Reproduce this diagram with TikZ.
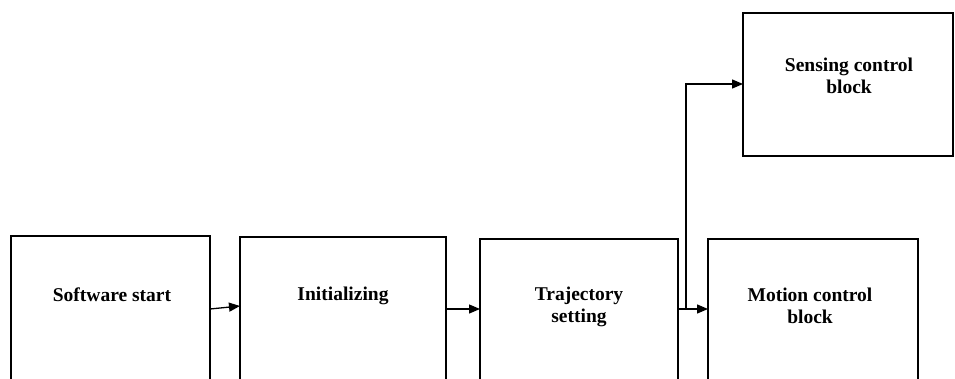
\documentclass[tikz,border=0pt]{standalone}
\usepackage{fontspec}
\setmainfont{Liberation Serif}
\usetikzlibrary{arrows.meta}
\begin{document}
\begin{tikzpicture}[x=1pt,y=-1pt,
  blockbox/.style={draw=black,line width=1.3pt,fill=white},
  blocktext/.style={font=\bfseries\fontsize{19.5}{22}\selectfont,align=center,inner sep=0pt},
  flow/.style={line width=1.3pt,-{Triangle[length=11pt,width=9pt]}}]
  \clip (0,0) rectangle (955,378);
  \fill[white] (0,0) rectangle (955,378);
  % blocks (the lower part runs past the bottom edge)
  \path[blockbox] (11,236) rectangle (210,430);
  \path[blockbox] (240,237) rectangle (446,430);
  \path[blockbox] (480,239) rectangle (678,430);
  \path[blockbox] (708,239) rectangle (918,430);
  \path[blockbox] (743,13) rectangle (953,156);
  % named anchor points on the block edges
  \coordinate (softE)  at (210,309);
  \coordinate (initW)  at (240,306);
  \coordinate (initE)  at (446,309);
  \coordinate (trajW)  at (480,309);
  \coordinate (trajE)  at (678,309);
  \coordinate (motW)   at (708,309);
  \coordinate (split)  at (686,309);
  \coordinate (bend)   at (686,84);
  \coordinate (senseW) at (743,84);
  % labels
  \node[blocktext] (soft)   at (112,295) {Software start};
  \node[blocktext] (init)   at (343,296) {Initializing};
  \node[blocktext] (traj)   at (579,307) {Trajectory\\setting};
  \node[blocktext] (motion) at (810,306) {Motion control\\block};
  \node[blocktext] (sense)  at (849,76)  {Sensing control\\block};
  % connectors
  \draw[flow] (softE) -- (initW);
  \draw[flow] (initE) -- (trajW);
  \draw[flow] (trajE) -- (motW);
  \draw[flow] (split) -- (bend) -- (senseW);
\end{tikzpicture}
\end{document}
